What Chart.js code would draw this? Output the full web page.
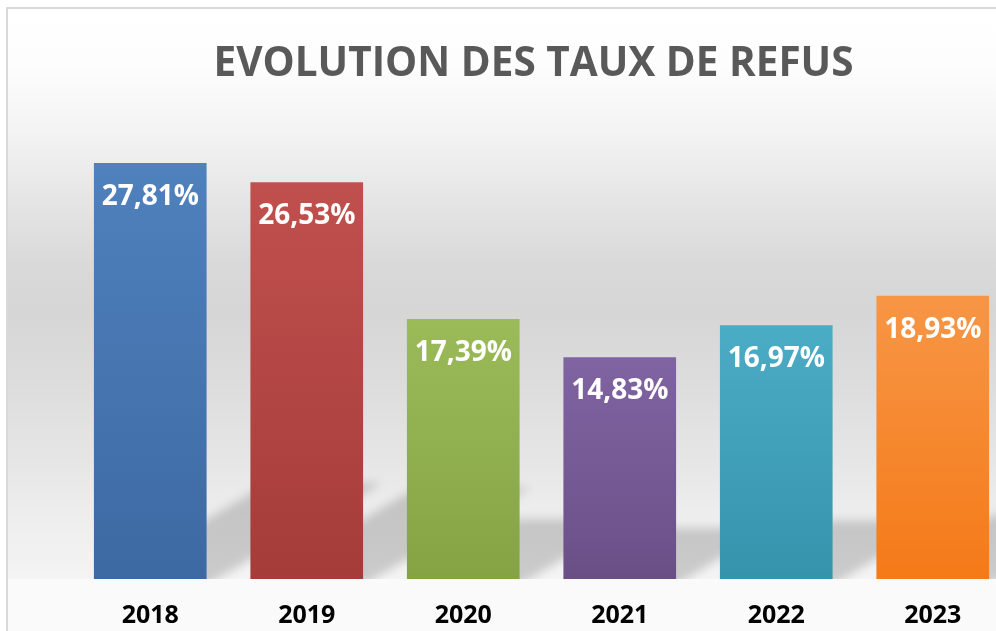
<!DOCTYPE html>
<html>
<head>
<meta charset="utf-8">
<script src="https://cdn.jsdelivr.net/npm/chart.js@4/dist/chart.umd.min.js"></script>
<style>
html,body{margin:0;padding:0;overflow:hidden;background:#fff;width:996px;height:631px;}
#wrap{position:absolute;left:0;top:0;width:1020px;height:655px;}
canvas{display:block;}
</style>
</head>
<body>
<div id="wrap"><canvas id="c" width="1020" height="655"></canvas></div>
<script>
const categories = ['2018', '2019', '2020', '2021', '2022', '2023'];
const refusalRates = [27.81, 26.53, 17.39, 14.83, 16.97, 18.93];
const chartTitle = 'EVOLUTION DES TAUX DE REFUS';
const topColors = ['#4F81BD', '#C0504D', '#9BBB59', '#8064A2', '#4BACC6', '#F79646'];
const bottomColors = ['#3D69A2', '#A53C3A', '#85A343', '#6A4F87', '#3693AC', '#F57A18'];

function fmt(v) { return v.toFixed(2).replace('.', ',') + '%'; }

const backgroundPlugin = {
  id: 'bg',
  beforeDraw(chart) {
    const ctx = chart.ctx, w = chart.width, h = chart.height;
    const area = chart.chartArea;
    ctx.save();
    ctx.fillStyle = '#ffffff';
    ctx.fillRect(0, 0, w, h);
    const g = ctx.createLinearGradient(0, 8, 0, area.bottom);
    g.addColorStop(0.00, '#ffffff');
    g.addColorStop(0.10, '#fdfdfd');
    g.addColorStop(0.22, '#f3f3f3');
    g.addColorStop(0.33, '#e6e6e6');
    g.addColorStop(0.45, '#d9d9d9');
    g.addColorStop(0.53, '#d6d6d6');
    g.addColorStop(0.65, '#dcdcdc');
    g.addColorStop(0.78, '#e5e5e5');
    g.addColorStop(0.87, '#ececec');
    g.addColorStop(1.00, '#f4f4f4');
    ctx.fillStyle = g;
    ctx.fillRect(7, 8, w, area.bottom - 8);
    ctx.fillStyle = '#fafafa';
    ctx.fillRect(7, area.bottom, w, h - area.bottom);
    ctx.strokeStyle = '#d9d9d9';
    ctx.lineWidth = 2;
    ctx.beginPath();
    ctx.moveTo(7, h);
    ctx.lineTo(7, 8);
    ctx.lineTo(w, 8);
    ctx.stroke();
    ctx.restore();
  },
  beforeDatasetsDraw(chart) {
    const ctx = chart.ctx, area = chart.chartArea;
    const meta = chart.getDatasetMeta(0);
    ctx.save();
    ctx.beginPath();
    ctx.rect(area.left - 20, area.top, area.right - area.left + 60, area.bottom - area.top);
    ctx.clip();
    ctx.filter = 'blur(5px)';
    ctx.fillStyle = 'rgba(0,0,0,0.17)';
    ctx.beginPath();
    meta.data.forEach(bar => {
      const p = bar.getProps(['x', 'y', 'base', 'width'], true);
      const hgt = p.base - p.y;
      const l = p.x - p.width / 2, r = p.x + p.width / 2;
      const dx = hgt * 0.42, dy = hgt * 0.23;
      ctx.moveTo(l, p.base + 6);
      ctx.lineTo(r, p.base + 6);
      ctx.lineTo(r + dx, p.base - dy);
      ctx.lineTo(l + dx, p.base - dy);
      ctx.closePath();
    });
    ctx.fill();
    ctx.restore();
  },
  afterDatasetsDraw(chart) {
    const ctx = chart.ctx;
    const meta = chart.getDatasetMeta(0);
    ctx.save();
    ctx.fillStyle = '#ffffff';
    ctx.font = 'bold 28px "Open Sans"';
    ctx.textAlign = 'center';
    ctx.textBaseline = 'middle';
    meta.data.forEach((bar, i) => {
      const p = bar.getProps(['x', 'y'], true);
      ctx.fillText(fmt(refusalRates[i]), p.x, p.y + 34);
    });
    ctx.restore();
  }
};

new Chart(document.getElementById('c'), {
  type: 'bar',
  data: {
    labels: categories,
    datasets: [{
      data: refusalRates,
      borderWidth: 0,
      barPercentage: 0.9,
      categoryPercentage: 0.8,
      backgroundColor(ctx) {
        const chart = ctx.chart;
        if (!chart.chartArea) return topColors[ctx.dataIndex];
        const y = chart.scales.y;
        const top = y.getPixelForValue(refusalRates[ctx.dataIndex]);
        const bottom = y.getPixelForValue(0);
        const g = chart.ctx.createLinearGradient(0, top, 0, bottom);
        g.addColorStop(0, topColors[ctx.dataIndex]);
        g.addColorStop(1, bottomColors[ctx.dataIndex]);
        return g;
      }
    }]
  },
  options: {
    responsive: false,
    animation: false,
    layout: { padding: { left: 56, right: 9, top: 0, bottom: 2 } },
    plugins: {
      legend: { display: false },
      tooltip: { enabled: false },
      title: {
        display: true,
        text: chartTitle,
        color: '#595959',
        font: { family: 'Open Sans', weight: 'bold', size: 40.5, lineHeight: 1.2 },
        padding: { top: 40, bottom: 41.7 }
      }
    },
    scales: {
      x: {
        grid: { display: false, drawTicks: false },
        border: { display: false },
        ticks: {
          color: '#000000',
          padding: 22,
          font: { family: 'Open Sans', weight: 'bold', size: 25, lineHeight: 1.2 }
        }
      },
      y: {
        min: 0,
        max: 30,
        grid: { display: false, drawTicks: false },
        border: { display: false },
        ticks: { display: false },
        afterFit(s) { s.width = 16; }
      }
    }
  },
  plugins: [backgroundPlugin]
});
</script>
</body>
</html>
